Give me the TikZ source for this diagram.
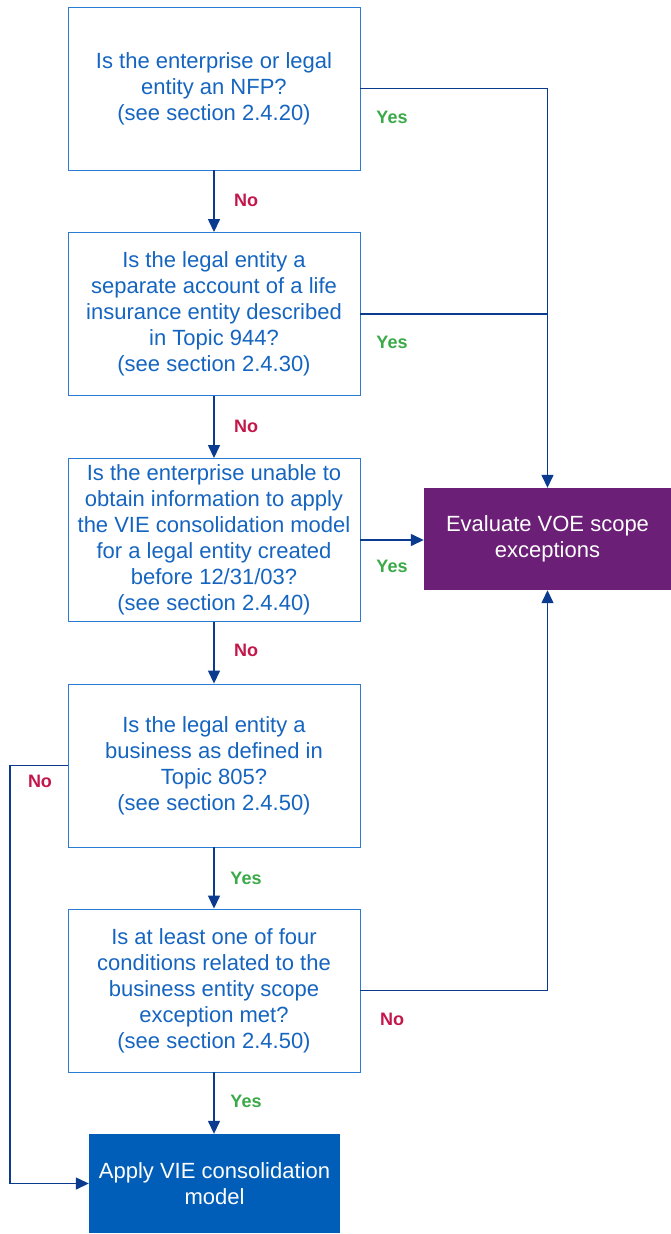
\documentclass[tikz,border=0pt]{standalone}
\usepackage{fontspec}
\setmainfont{Liberation Sans}
\usetikzlibrary{arrows.meta}
\definecolor{boxline}{HTML}{2A7BD4}
\definecolor{boxtext}{HTML}{1565C0}
\definecolor{conncol}{HTML}{0B3B8F}
\definecolor{yescol}{HTML}{3AAA48}
\definecolor{nocol}{HTML}{C3174B}
\definecolor{voecol}{HTML}{6B1F76}
\definecolor{applycol}{HTML}{005EB8}
\tikzset{
  qbox/.style={draw=boxline, line width=0.9pt, minimum width=292pt, minimum height=163pt, inner sep=0pt,
    text=boxtext, align=center, font=\fontsize{22}{26}\selectfont},
  conn/.style={draw=conncol, line width=1.4pt},
  arr/.style={conn, -{Triangle[length=13pt,width=12pt]}},
  yeslab/.style={text=yescol, font=\fontsize{18}{20}\selectfont\bfseries},
  nolab/.style={text=nocol, font=\fontsize{18}{20}\selectfont\bfseries},
}
\begin{document}
\begin{tikzpicture}[x=1pt,y=-1pt]
\useasboundingbox (0,0) rectangle (670,1234);
\node[qbox] (b1) at (214,88.5) {Is the enterprise or legal\\entity an NFP?\\(see section 2.4.20)};
\node[qbox] (b2) at (214,314) {Is the legal entity a\\separate account of a life\\insurance entity described\\in Topic 944?\\(see section 2.4.30)};
\node[qbox] (b3) at (214,540) {Is the enterprise unable to\\obtain information to apply\\the VIE consolidation model\\for a legal entity created\\before 12/31/03?\\(see section 2.4.40)};
\node[qbox] (b4) at (214,765.5) {Is the legal entity a\\business as defined in\\Topic 805?\\(see section 2.4.50)};
\node[qbox] (b5) at (214,990.5) {Is at least one of four\\conditions related to the\\business entity scope\\exception met?\\(see section 2.4.50)};
\node[fill=voecol, minimum width=247pt, minimum height=102pt, inner sep=0pt, text=white, align=center,
  font=\fontsize{22}{26}\selectfont] (voe) at (547.5,539) {Evaluate VOE scope\\exceptions};
\node[fill=applycol, minimum width=251pt, minimum height=99pt, inner sep=0pt, text=white, align=center,
  font=\fontsize{22}{26}\selectfont] (apply) at (214.5,1183.5) {Apply VIE consolidation\\model};
\coordinate (L) at (10,765.5);
% vertical arrows
\draw[arr] (b1.south) -- (b2.north);
\draw[arr] (b2.south) -- (b3.north);
\draw[arr] (b3.south) -- (b4.north);
\draw[arr] (b4.south) -- (b5.north);
\draw[arr] (b5.south) -- (b5.south |- apply.north);
% right side
\draw[arr] (b1.east) -| (voe.north);
\draw[conn] (b2.east) -- (b2.east -| voe.north);
\draw[arr] (b3.east) -- (b3.east -| voe.west);
\draw[arr] (b5.east) -| (voe.south);
% left side
\draw[arr] (b4.west) -- (L) |- (apply.west);
% labels
\node[nolab] (n1) at (246,200) {No};
\node[yeslab] (y1) at (392,117) {Yes};
\node[yeslab] (y2) at (392,342) {Yes};
\node[nolab] (n2) at (246,426) {No};
\node[yeslab] (y3) at (392,566) {Yes};
\node[nolab] (n3) at (246,650) {No};
\node[nolab] (n4) at (40,781) {No};
\node[yeslab] (y4) at (246,878) {Yes};
\node[nolab] (n5) at (392,1019) {No};
\node[yeslab] (y5) at (246,1101) {Yes};
\end{tikzpicture}
\end{document}
